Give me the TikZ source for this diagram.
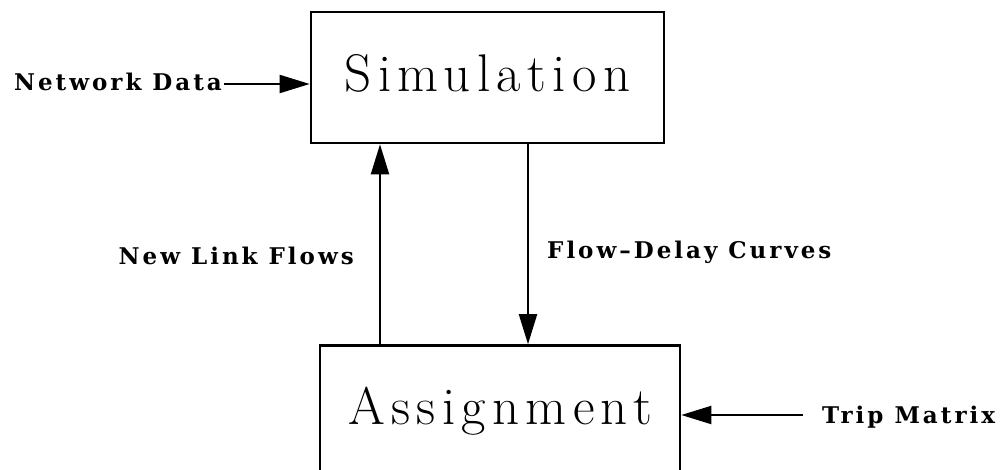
\documentclass[tikz,border=0pt]{standalone}
\usepackage{fontspec}
\newfontfamily\blockfont{Latin Modern Roman}[LetterSpace=12]
\newfontfamily\labelfont{DejaVu Serif}[LetterSpace=13]
\usetikzlibrary{arrows.meta}
\begin{document}
\begin{tikzpicture}[x=1pt,y=-1pt,
  box/.style={draw, line width=2.6pt, minimum width=353pt, minimum height=131pt,
    inner sep=0pt, text height=35pt, text depth=8pt,
    font=\blockfont\fontsize{53}{53}\selectfont},
  lbl/.style={inner sep=0pt,
    font=\labelfont\fontsize{23}{23}\selectfont\bfseries},
  flow/.style={line width=2pt, -{Triangle[length=30pt,width=18pt]}}]
\useasboundingbox (0,0) rectangle (1001,469);
\clip (0,0) rectangle (1001,469);

% the two process blocks
\node[box] (sim) at (487.5,77.5) {Simulation};
\node[box, minimum width=360pt] (asg) at (500,411) {Assignment};

% x positions of the two vertical connectors
\coordinate (upx) at (380,0);
\coordinate (dnx) at (528,0);

% external inputs
\node[lbl, anchor=base east] (nd) at (222,90) {Network Data};
\coordinate (ndout) at ([shift={(2pt,6pt)}]nd.base east);
\draw[flow] (ndout) -- (sim.west |- ndout);

\node[lbl, anchor=base west] (tm) at (822,423) {Trip Matrix};
\coordinate (tmout) at ([shift={(-19pt,8pt)}]tm.base west);
\draw[flow] (tmout) -- (asg.east |- tmout);

% feedback loop between the blocks
\draw[flow] (asg.north -| upx) -- (sim.south -| upx);
\draw[flow] (sim.south -| dnx) -- (asg.north -| dnx);

\node[lbl, anchor=base east] (nlf) at (354,264) {New Link Flows};
\node[lbl, anchor=base west] (fdc) at (547,258) {Flow\textendash Delay Curves};
\end{tikzpicture}
\end{document}
